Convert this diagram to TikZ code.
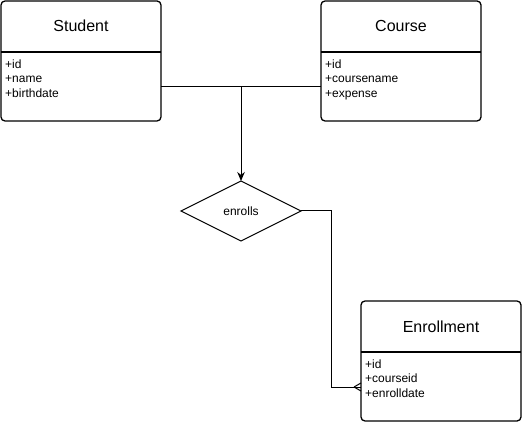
\documentclass[tikz,border=0pt]{standalone}
\usepackage{fontspec}
\setmainfont{Liberation Sans}
\usetikzlibrary{shapes.geometric,arrows.meta}
\begin{document}
\begin{tikzpicture}[x=1pt,y=-1pt,
  entity/.style={draw,line width=1.3pt,rounded corners=4pt,minimum width=160pt,minimum height=120pt,anchor=north west,inner sep=0pt,outer sep=0pt},
  title/.style={anchor=base,inner sep=0pt,font=\fontsize{16}{19}\selectfont},
  attr/.style={anchor=north west,inner sep=0pt,align=left,font=\fontsize{12}{14.4}\selectfont},
  sep/.style={line width=1.3pt},
  conn/.style={line width=1pt}]
\useasboundingbox (0,0) rectangle (522,422);
% entities
\node[entity] (student) at (1,1) {};
\node[entity] (course) at (321,1) {};
\node[entity] (enroll) at (361,301) {};
\draw[sep] (1,52) -- (161,52);
\draw[sep] (321,52) -- (481,52);
\draw[sep] (361,352) -- (521,352);
\node[title] (tstudent) at (81,32) {Student};
\node[title] (tcourse) at (401,32) {Course};
\node[title] (tenroll) at (441,332.5) {Enrollment};
\node[attr] (astudent) at (5,59.5) {+id\\+name\\+birthdate};
\node[attr] (acourse) at (325,59.5) {+id\\+coursename\\+expense};
\node[attr] (aenroll) at (365,359.5) {+id\\+courseid\\+enrolldate};
% relationship
\node[draw,diamond,aspect=2,minimum width=120pt,minimum height=60pt,inner sep=0pt,outer sep=0pt,line width=1pt,font=\fontsize{12}{14.4}\selectfont] (enrolls) at (241,211) {enrolls};
% connectors
\coordinate (j) at (241,87);
\coordinate (k) at (331,387);
\draw[conn] (student.east |- j) -- (course.west |- j);
\draw[conn,-{Stealth[length=9pt,width=7.5pt]}] (j) -- (enrolls.north);
\draw[conn] (enrolls.east) -| (k) -- (enroll.west |- k);
\coordinate (cf) at (354,387);
\draw[conn] (cf) -- ([yshift=-4pt]enroll.west |- k);
\draw[conn] (cf) -- ([yshift=4pt]enroll.west |- k);
\end{tikzpicture}
\end{document}
